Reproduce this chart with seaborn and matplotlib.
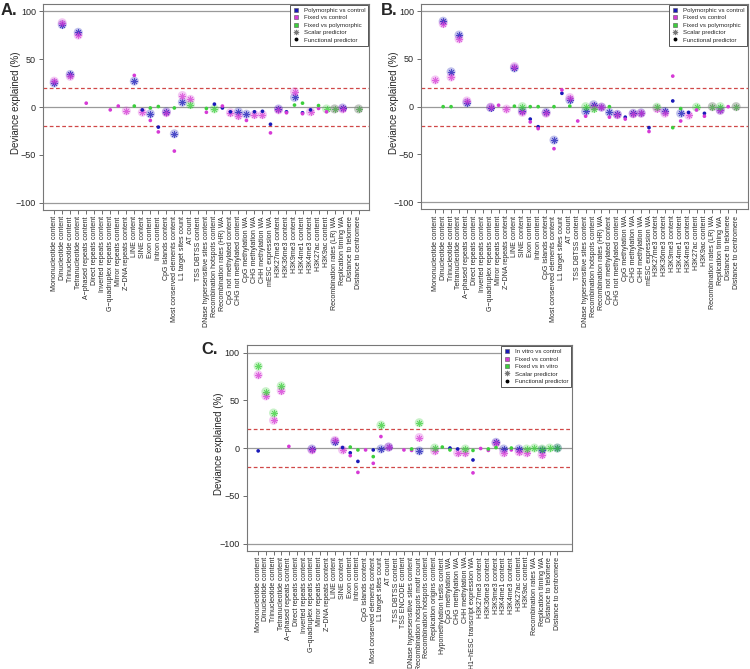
import numpy as np
import pandas as pd
import matplotlib
matplotlib.use("Agg")
import matplotlib.pyplot as plt
from matplotlib.lines import Line2D
import seaborn as sns

NA = np.nan

# predictor names for panels A and B
AB_LABELS = [
    "Mononucleotide content", "Dinucleotide content", "Trinucleotide content",
    "Tetranucleotide content", "A\u2212phased repeats content", "Direct repeats content",
    "Inverted repeats content", "G\u2212quadruplex repeats content", "Mirror repeats content",
    "Z\u2212DNA repeats content", "LINE content", "SINE content", "Exon content",
    "Intron content", "CpG islands content", "Most conserved elements content",
    "L1 target sites count", "AT count", "TSS DBTSS content",
    "DNase hypersensitive sites content", "Recombination hotspots content",
    "Recombination rates (HR) WA", "CpG not methylated content",
    "CHG not methylated content", "CpG methylation WA", "CHG methylation WA",
    "CHH methylation WA", "mESC expression WA", "H3K27me3 content", "H3K36me3 content",
    "H3K9me3 content", "H3K4me1 content", "H3K4me3 content", "H3K27ac content",
    "H3K9ac content", "Recombination rates (LR) WA", "Replication timing WA",
    "Distance to telomere", "Distance to centromere",
]

# predictor names for panel C
C_LABELS = [
    "Mononucleotide content", "Dinucleotide content", "Trinucleotide content",
    "Tetranucleotide content", "A\u2212phased repeats content", "Direct repeats content",
    "Inverted repeats content", "G\u2212quadruplex repeats content", "Mirror repeats content",
    "Z\u2212DNA repeats content", "LINE content", "SINE content", "Exon content",
    "Intron content", "CpG islands content", "Most conserved elements content",
    "L1 target sites count", "AT count", "TSS DBTSS content", "TSS ENCODE content",
    "DNase hypersensitive sites content", "Recombination hotspots motif count",
    "Recombination hotspots content", "Replication origins content",
    "Hypomethylation testis content", "CpG methylation WA", "CHG methylation WA",
    "CHH methylation WA", "H1\u2212hESC transcript expression WA", "H3K27me3 content",
    "H3K36me3 content", "H3K9me3 content", "H3K4me1 content", "H3K4me3 content",
    "H3K27ac content", "H3K9ac content", "Recombination rates WA",
    "Replication timing WA", "Distance to telomere", "Distance to centromere",
]

# deviance explained (%) ; kind: s = scalar predictor, f = functional predictor
A_POLY = [25, 86, 34, 78, NA, NA, NA, NA, NA, NA, 27, -3, -7, -21, -5, -28, 5, NA, NA, NA,
          3, -1, -5, -5, -7.5, -5, -4.5, -18, -2, -5, 10, -6, -3, NA, NA, NA, -1, NA, NA]
A_POLY_KIND = "ssss......sfsfsss...fffssfffsfsff...s.."
A_FIX = [27, 88, 32, 75, 4, NA, NA, -3, 1, -4, 33, -5.5, -14, -26, -6, -46, 12, 8, NA, -5.5,
         NA, 1, -6, -9, -14, -8, -8, -27, -3, -6, 16, -7, -5, -1.5, -5, -2, -2, NA, -2]
A_FIX_KIND = "ssssf..ffsfsffsfss.f.fssfssfsfsfsffss.s"
A_FVP = [NA, NA, NA, NA, NA, NA, NA, NA, NA, NA, 1, NA, -1, 0.5, NA, -1, NA, 2.5, NA, -1.5,
         -2, NA, NA, NA, NA, NA, NA, NA, NA, NA, 2, 4, NA, 1.5, -2, -2, NA, NA, -2]
A_FVP_KIND = "..........f.ff.f.s.fs.........ff.fss..s"

B_POLY = [NA, 89.5, 36.5, 75, 4, NA, NA, -1, NA, NA, 40.5, -4.5, -13, -21, -6, -35, 14, 7, NA,
          -5, 2, -0.5, -6, -8, -11, -7, -6.5, -22, NA, -5, 6, -7, -6, NA, -7, NA, -3.5, NA, NA]
B_POLY_KIND = ".ssss..s..ssffssfs.sssssfssf.sfsf.f.s.."
B_FIX = [28, 87, 31, 71, 6, NA, NA, -0.5, 1.5, -2.5, 42, -6, -16, -23, -7, -44, 17.5, 9.5, -15,
         -10, 0, -0.5, -11, -8.5, -13, -7.5, -7, -26, -2, -7, 32, -15, -9, -3.5, -10, 0, -4, 0, 0]
B_FIX_KIND = "sssss..sfsssffsffsffssfsfssfssffsffssfs"
B_FVP = [NA, 0, 0, NA, NA, NA, NA, NA, NA, NA, 0.5, 0, 0, 0, NA, 0, NA, 0.5, NA, 0, -2, NA, 0,
         NA, NA, NA, NA, NA, -0.5, NA, -22, -2, NA, -0.5, NA, 0, 0, NA, 0]
B_FVP_KIND = ".ff.......fsff.f.f.ss.f.....s.ff.s.ss.s"

C_VIT = [-3, NA, NA, NA, NA, NA, NA, -1, NA, NA, 6.6, 0.5, -5, -14, NA, -2, -1, 1, NA, NA,
         NA, -3, NA, NA, NA, 0, -1, NA, -12.5, NA, NA, 6, -1, NA, -1, NA, NA, -2, NA, 0]
C_VIT_KIND = "f......s..sfff.fss...s...ff.f..ss.s..s.s"
C_FIX = [76.6, 54.5, 29, 60, 1.7, NA, NA, -2, NA, NA, 8, -2, -8, -25.5, -2, -16, 12, 1, NA, -2,
         -2.5, 11, NA, -3, NA, NA, -5, -5, -26, -0.5, -2.5, 5, -5, -2, -4, -5, NA, -7, NA, NA]
C_FIX_KIND = "ssssf..s..ssfffffs.ffs.s..ssfffssfss.s.."
C_FVV = [85.7, 59, 36.7, 65, NA, NA, NA, NA, NA, NA, NA, NA, 1, -2, NA, -9, 24, NA, NA, NA,
         -1, 26.5, NA, 0, 1, -2, NA, -1, -2.5, NA, -1, 0.5, NA, 0, NA, -1, 0, -1, 0, 0]
C_FVV_KIND = "ssss........ff.fs...fs.sff.sf.ff.f.sssss"

BLUE = "#1a1ab8"
MAGENTA = "#d63ad6"
GREEN = "#3ccf3c"
ASTERISK = (8, 2, 0)

sns.set_theme(style="white")
plt.rcParams["font.family"] = ["Liberation Sans", "DejaVu Sans"]


def draw_points(ax, values, kinds, color):
    assert len(values) == len(kinds)
    df = pd.DataFrame({"x": np.arange(len(values)), "y": values, "kind": list(kinds)})
    df = df.dropna()
    sc = df[df["kind"] == "s"]
    fn = df[df["kind"] == "f"]
    # scalar: pale halo with an asterisk on top
    sns.scatterplot(data=sc, x="x", y="y", ax=ax, color=color, s=42, alpha=0.28,
                    edgecolor="none", legend=False, zorder=3)
    sns.scatterplot(data=sc, x="x", y="y", ax=ax, color=color, s=20, marker=ASTERISK,
                    linewidth=0.6, alpha=0.7, legend=False, zorder=4)
    # functional: small dot
    sns.scatterplot(data=fn, x="x", y="y", ax=ax, color=color, s=7, edgecolor="none",
                    legend=False, zorder=5)


def draw_panel(ax, labels, series, names, xlim, ylab_x):
    for y in (100, 0, -100):
        ax.axhline(y, color="#9a9a9a", lw=0.9, zorder=1)
    for y in (20, -20):
        ax.axhline(y, color="#d04848", lw=0.9, ls=(0, (3, 2)), zorder=1)
    for values, kinds, color in series:
        draw_points(ax, values, kinds, color)

    ax.set_xlim(*xlim)
    ax.set_ylim(-107.5, 107.5)
    ax.set_xticks(np.arange(len(labels)))
    ax.set_xticklabels(labels, rotation=90, fontsize=5)
    ax.set_yticks([-100, -50, 0, 50, 100])
    ax.tick_params(axis="y", labelsize=6.5, length=3, width=0.6, color="#555555", pad=2)
    ax.tick_params(axis="x", length=3, width=0.6, color="#555555", pad=1.5)
    ax.tick_params(bottom=True, left=True)
    ax.set_xlabel("")
    ax.set_ylabel("Deviance explained (%)", fontsize=7)
    ax.yaxis.set_label_coords(ylab_x, 0.52)
    for sp in ax.spines.values():
        sp.set_color("#777777")
        sp.set_linewidth(0.8)

    handles = [Line2D([], [], ls="none", marker="s", markersize=3.2, color=c,
                      markeredgecolor="#555555", markeredgewidth=0.4)
               for c in (BLUE, MAGENTA, GREEN)]
    handles.append(Line2D([], [], ls="none", marker=ASTERISK, markersize=3.8,
                          color="#777777", markeredgewidth=0.6))
    handles.append(Line2D([], [], ls="none", marker="o", markersize=1.8, color="black"))
    leg = ax.legend(handles, names + ["Scalar predictor", "Functional predictor"],
                    loc="upper right", fontsize=4.4, frameon=True, fancybox=False,
                    framealpha=1, edgecolor="#555555", borderaxespad=0.1,
                    handlelength=1.0, handletextpad=0.8, labelspacing=0.35,
                    borderpad=0.5)
    leg.get_frame().set_linewidth(0.7)


fig = plt.figure(figsize=(7.5, 6.69), dpi=100)

ax_a = fig.add_axes([0.0573, 0.6861, 0.4347, 0.3079])
draw_panel(ax_a, AB_LABELS,
           [(A_POLY, A_POLY_KIND, BLUE), (A_FIX, A_FIX_KIND, MAGENTA), (A_FVP, A_FVP_KIND, GREEN)],
           ["Polymorphic vs control", "Fixed vs control", "Fixed vs polymorphic"],
           (-1.4, 39.3), -0.068)

ax_b = fig.add_axes([0.5613, 0.6871, 0.4360, 0.3069])
draw_panel(ax_b, AB_LABELS,
           [(B_POLY, B_POLY_KIND, BLUE), (B_FIX, B_FIX_KIND, MAGENTA), (B_FVP, B_FVP_KIND, GREEN)],
           ["Polymorphic vs control", "Fixed vs control", "Fixed vs polymorphic"],
           (-1.8, 39.5), -0.068)

ax_c = fig.add_axes([0.3289, 0.1768, 0.4337, 0.3070])
draw_panel(ax_c, C_LABELS,
           [(C_VIT, C_VIT_KIND, BLUE), (C_FIX, C_FIX_KIND, MAGENTA), (C_FVV, C_FVV_KIND, GREEN)],
           ["In vitro vs control", "Fixed vs control", "Fixed vs in vitro"],
           (-1.5, 40.9), -0.070)

fig.text(0.001, 0.985, "A.", fontsize=12, fontweight="bold", va="center", ha="left")
fig.text(0.508, 0.985, "B.", fontsize=12, fontweight="bold", va="center", ha="left")
fig.text(0.269, 0.478, "C.", fontsize=12, fontweight="bold", va="center", ha="left")

fig.savefig("out.png", dpi=100)
